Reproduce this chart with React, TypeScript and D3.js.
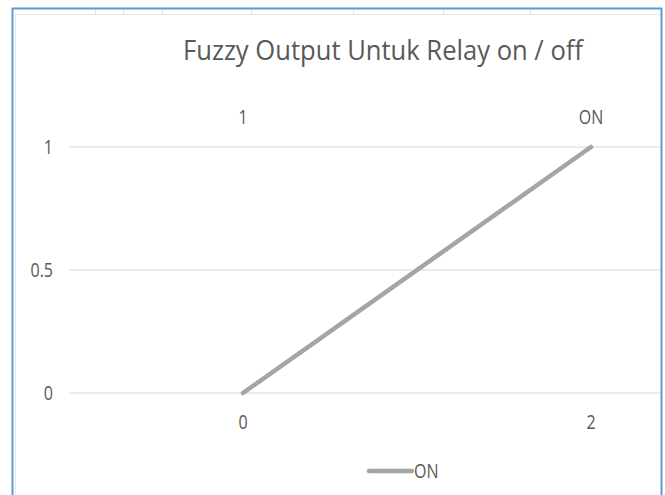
import React from "react";
import * as d3 from "d3";

const categories = ["0", "2"];
const topLabels = ["1", "ON"];
const seriesOn = [0, 1];
const yTicks = [0, 0.5, 1];
const seriesName = "ON";
const title = "Fuzzy Output Untuk Relay on / off";

const W = 665;
const H = 495;
const font = "'Open Sans', 'Liberation Sans', sans-serif";
const textColor = "#595959";

// the screenshot text is a bit taller than wide, so stretch vertically
function Label({
  x,
  y,
  anchor = "middle",
  children,
}: {
  x: number;
  y: number;
  anchor?: string;
  children: React.ReactNode;
}) {
  return (
    <g transform={`translate(${x},${y}) scale(1,1.25)`}>
      <text
        dy="0.36em"
        textAnchor={anchor}
        fontFamily={font}
        fontSize={16}
        fill={textColor}
      >
        {children}
      </text>
    </g>
  );
}

export default function App() {
  // plot area runs past the right edge of the cropped screenshot
  const x = d3.scaleBand<string>().domain(categories).range([69, 765]);
  const y = d3.scaleLinear().domain([0, 1]).range([393, 147]);
  const cx = (c: string) => (x(c) as number) + x.bandwidth() / 2;

  const line = d3
    .line<number>()
    .x((_, i) => cx(categories[i]))
    .y((d) => y(d));

  return (
    <svg
      width={W}
      height={H}
      style={{ position: "absolute", left: 0, top: 0, background: "#fff" }}
    >
      {/* faint spreadsheet grid behind the chart */}
      <g stroke="#e6e6e6" strokeWidth={1}>
        <line x1={15} x2={662} y1={14.5} y2={14.5} />
        <line x1={15.5} x2={15.5} y1={14} y2={495} />
        {[95, 123, 162, 251, 353, 443, 530].map((v) => (
          <line key={v} x1={v + 0.5} x2={v + 0.5} y1={9} y2={14} />
        ))}
      </g>

      <text
        x={383}
        y={60}
        textAnchor="middle"
        fontFamily={font}
        fontSize={26.5}
        fill={textColor}
        textLength={400}
        lengthAdjust="spacingAndGlyphs"
      >
        {title}
      </text>

      <defs>
        <clipPath id="plot">
          <rect x={0} y={0} width={661} height={H} />
        </clipPath>
      </defs>

      <g clipPath="url(#plot)">
        {yTicks.map((t) => (
          <line
            key={t}
            x1={69}
            x2={765}
            y1={y(t)}
            y2={y(t)}
            stroke="#d9d9d9"
            strokeWidth={1.2}
          />
        ))}
        <path
          d={line(seriesOn) || ""}
          fill="none"
          stroke="#a5a5a5"
          strokeWidth={4.5}
          strokeLinecap="round"
        />
      </g>

      {yTicks.map((t) => (
        <Label key={t} x={53} y={y(t)} anchor="end">
          {t}
        </Label>
      ))}

      {categories.map((c) => (
        <Label key={c} x={cx(c)} y={422}>
          {c}
        </Label>
      ))}

      {topLabels.map((c, i) => (
        <Label key={c} x={cx(categories[i])} y={117}>
          {c}
        </Label>
      ))}

      <g transform="translate(369,471)">
        <line x1={0} x2={43} y1={0} y2={0} stroke="#a5a5a5" strokeWidth={4.5} strokeLinecap="round" />
        <Label x={45} y={0} anchor="start">
          {seriesName}
        </Label>
      </g>

      {/* selection border around the chart object */}
      <rect x={12.5} y={8.5} width={649} height={500} fill="none" stroke="#5b9bd5" strokeWidth={2} />
    </svg>
  );
}
